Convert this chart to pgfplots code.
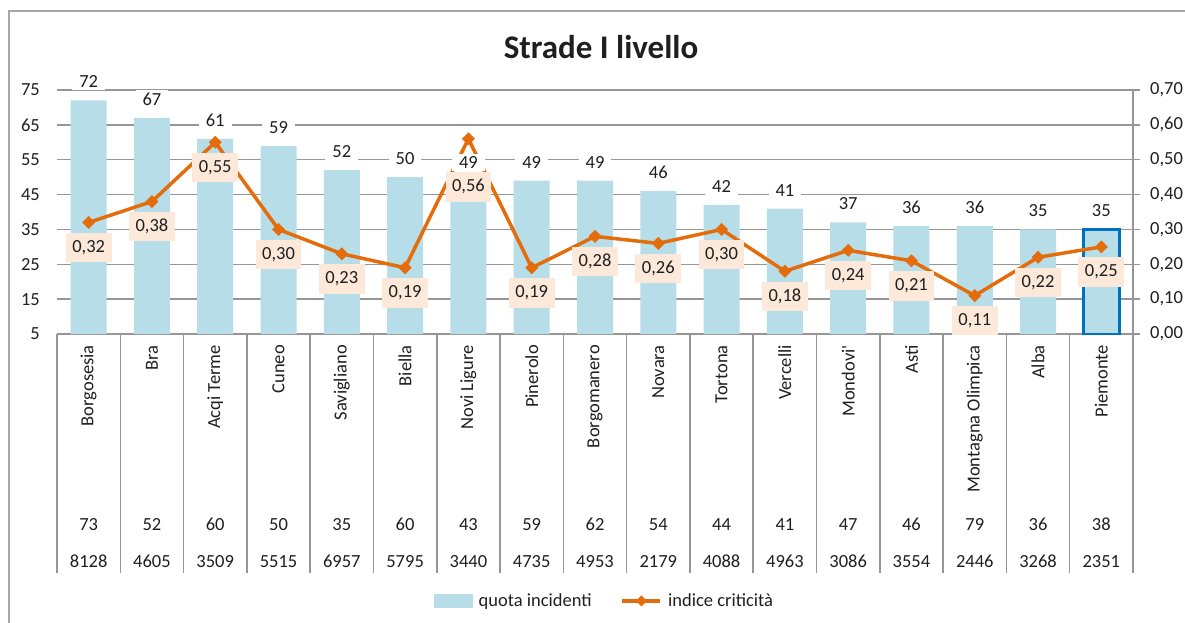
\documentclass[border=0pt]{standalone}
\usepackage{fontspec}
\setmainfont{Carlito}
\usepackage{pgfplots}
\usepackage{pgfplotstable}
\pgfplotsset{compat=1.18}
\definecolor{barblue}{HTML}{B7DDE8}
\definecolor{linecol}{HTML}{E46C0A}
\definecolor{peach}{HTML}{FDE9D9}
\definecolor{piemblue}{HTML}{0070C0}
\definecolor{gridcol}{HTML}{969696}
\definecolor{framecol}{HTML}{A6A6A6}
\definecolor{txt}{HTML}{1F1F1F}
\newcommand\axfont{\fontsize{18.5}{22}\selectfont}

\pgfplotstableread{
x q
0 72
1 67
2 61
3 59
4 52
5 50
6 49
7 49
8 49
9 46
10 42
11 41
12 37
13 36
14 36
15 35
16 35
}\bars

\pgfplotstableread{
x c off
0 0.32 -25
1 0.38 -25
2 0.55 -25
3 0.30 -25
4 0.23 -25
5 0.19 -25
6 0.56 -48
7 0.19 -25
8 0.28 -25
9 0.26 -25
10 0.30 -25
11 0.18 -25
12 0.24 -25
13 0.21 -25
14 0.11 -25
15 0.22 -25
16 0.25 -25
}\crit

\pgfplotstableread{
x a b
0 73 8128
1 52 4605
2 60 3509
3 50 5515
4 35 6957
5 60 5795
6 43 3440
7 59 4735
8 62 4953
9 54 2179
10 44 4088
11 41 4963
12 47 3086
13 46 3554
14 79 2446
15 36 3268
16 38 2351
}\rows

\pgfplotsset{
  base/.style={width=1076pt, height=244pt, scale only axis,
    xmin=-0.5, xmax=16.5, at={(0pt,0pt)}, anchor=south west,
    tick label style={font=\axfont, text=txt},
    /pgf/number format/assume math mode=true},
  barleg/.style={legend image code/.code={\fill[barblue] (0pt,-6.5pt) rectangle (38pt,6.5pt);}},
  lineleg/.style={legend image code/.code={\draw[mark repeat=2,mark phase=2,##1] plot coordinates {(0pt,0pt) (19pt,0pt) (38pt,0pt)};}},
}

\begin{document}
\begin{tikzpicture}
\useasboundingbox (-57pt,-289pt) rectangle (1128pt,334pt);
\draw[framecol, line width=1.5pt] (-48pt,-289pt) -- (-48pt,323pt) -- (1128pt,323pt);
\node[font=\fontsize{33}{40}\selectfont\bfseries, text=txt] at (544pt,287pt) {Strade I livello};

% axis 1: grid, bars, category table
\begin{axis}[base, ymin=5, ymax=75, ytick={5,15,...,75},
  ymajorgrids, grid style={gridcol, line width=1.5pt},
  axis x line*=bottom, axis y line*=left,
  y axis line style={draw=none},
  x axis line style={-, gridcol, line width=1.5pt},
  tick style={gridcol, line width=1.5pt}, major tick length=0pt, tick align=inside,
  yticklabel style={inner sep=0pt, anchor=east, xshift=-17pt},
  xtick={0,...,16},
  xticklabels={Borgosesia,Bra,Acqi Terme,Cuneo,Savigliano,Biella,Novi Ligure,Pinerolo,Borgomanero,Novara,Tortona,Vercelli,Mondovi\textquotesingle,Asti,Montagna Olimpica,Alba,Piemonte},
  xticklabel style={inner sep=0pt, yshift=-11pt, rotate=90, anchor=east},
  extra x ticks={-0.5,0.5,...,16.5}, extra x tick labels={},
  extra x tick style={grid=none, major tick length=239pt, tick align=outside},
  ybar, bar width=36pt, clip mode=individual]
\addplot[fill=barblue, draw=none, bar shift=0pt, skip coords between index={16}{17}] table[x=x,y=q]{\bars};
\addplot[fill=barblue, draw=piemblue, line width=3pt, bar shift=0pt, skip coords between index={0}{16}] table[x=x,y=q]{\bars};
\end{axis}

% axis 2: right axis, line
\begin{axis}[base, ymin=0, ymax=0.7, axis y line*=right, axis x line=none,
  ytick={0,0.1,0.2,0.3,0.4,0.5,0.6,0.7},
  yticklabel style={/pgf/number format/fixed, /pgf/number format/fixed zerofill, /pgf/number format/precision=2, /pgf/number format/use comma},
  y axis line style={-, gridcol, line width=1.5pt},
  ytick style={gridcol, line width=1.5pt}, major tick length=7pt, tick align=outside,
  yticklabel style={anchor=west, inner sep=0pt, xshift=10pt},
  clip=false]
\addplot[linecol, line width=3.5pt, mark=square*, mark size=4.3pt, mark options={solid, rotate=45, fill=linecol, line width=0.5pt}] table[x=x,y=c]{\crit};
\end{axis}

% axis 3: bar labels
\begin{axis}[base, ymin=5, ymax=75, hide axis, clip=false]
\addplot[draw=none, nodes near coords, point meta=y,
  every node near coord/.append style={anchor=base, yshift=12.5pt, fill=white, inner xsep=7pt, inner ysep=2.5pt, text=txt, font=\axfont}]
  table[x=x,y=q]{\bars};
\end{axis}

% axis 4: line labels, table rows, legend
\begin{axis}[base, ymin=0, ymax=0.7, hide axis, clip=false,
  legend style={at={(0.509,-1.094)}, anchor=center, draw=none, fill=none, font=\axfont, text=txt,
    legend columns=2, /tikz/every odd column/.append style={column sep=4pt},
    /tikz/every even column/.append style={column sep=27pt}},
  legend cell align=left]
\addlegendimage{barleg}
\addlegendentry{quota incidenti}
\addlegendimage{lineleg, linecol, line width=3.5pt, mark=square*, mark size=3.6pt, mark options={solid, rotate=45, fill=linecol, line width=0.5pt}}
\addlegendentry{indice criticità}
\addplot[forget plot, draw=none, point meta=y,
  visualization depends on={\thisrow{off} \as \myoff},
  nodes near coords={\pgfmathprintnumber[fixed,fixed zerofill,precision=2,use comma]{\pgfplotspointmeta}},
  every node near coord/.append style={anchor=center, yshift=\myoff pt, fill=peach, inner xsep=6.5pt, inner ysep=7.5pt, text height=12pt, text depth=2.5pt, text=txt, font=\axfont}]
  table[x=x,y=c]{\crit};
\addplot[forget plot, draw=none, nodes near coords, point meta=explicit symbolic,
  every node near coord/.append style={anchor=base, inner sep=0pt, text=txt, font=\axfont}]
  table[x=x, y expr=-0.565, meta=a]{\rows};
\addplot[forget plot, draw=none, nodes near coords, point meta=explicit symbolic,
  every node near coord/.append style={anchor=base, inner sep=0pt, text=txt, font=\axfont}]
  table[x=x, y expr=-0.671, meta=b]{\rows};
\end{axis}
\end{tikzpicture}
\end{document}
